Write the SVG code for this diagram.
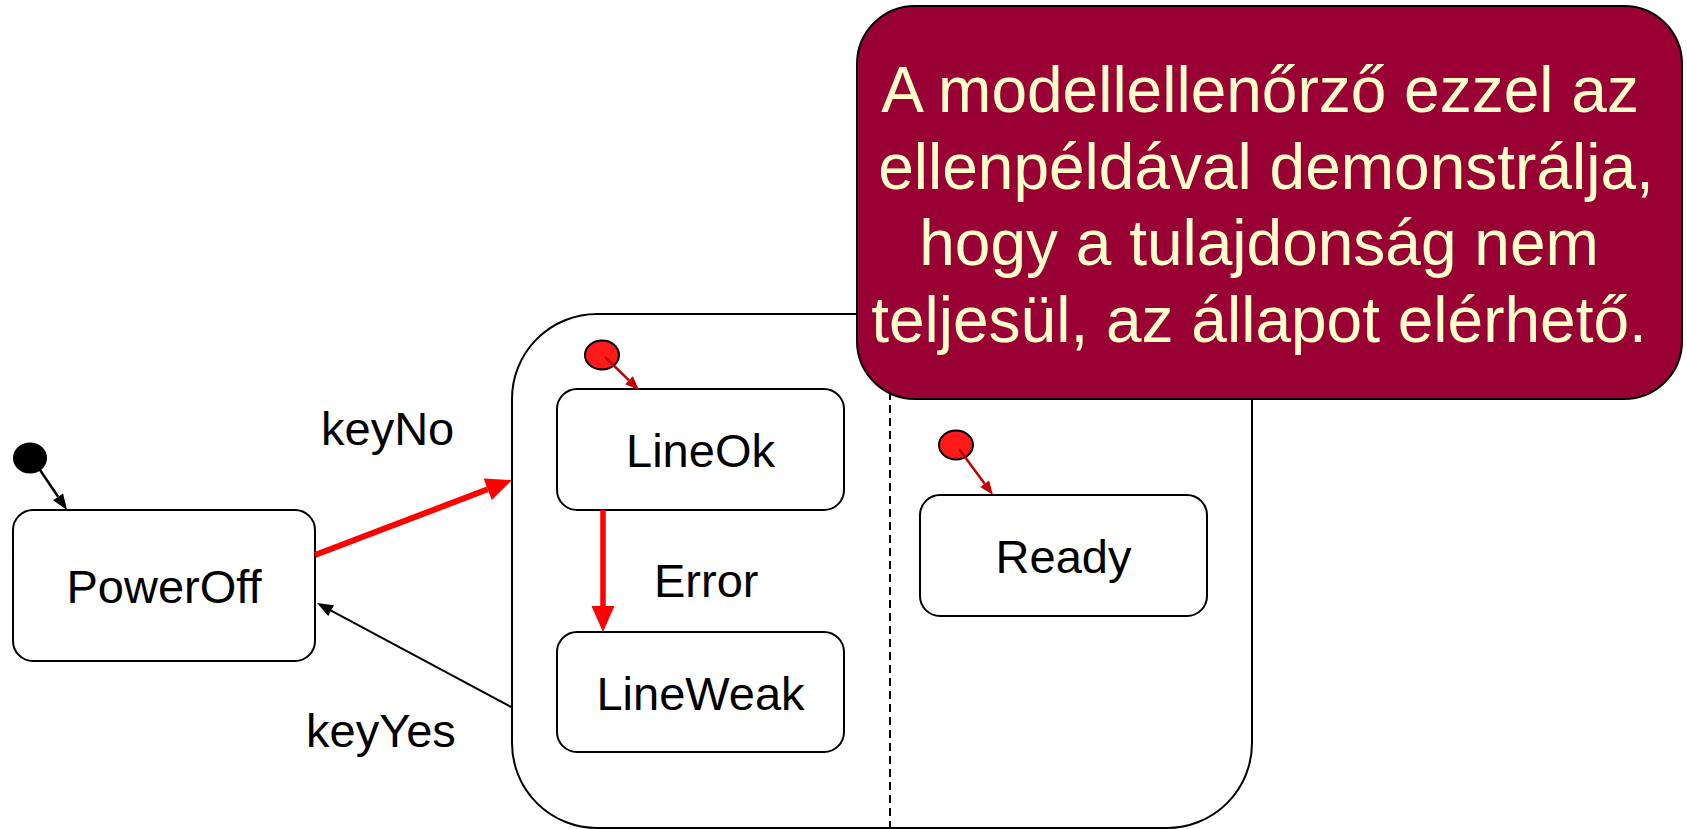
<svg xmlns="http://www.w3.org/2000/svg" width="1687" height="829" viewBox="0 0 1687 829">
<style>
.state{fill:#fff;stroke:#000;stroke-width:2}
.lbl{font-family:"Liberation Sans",Arial,sans-serif;font-size:47px;fill:#000}
.mid{text-anchor:middle}
.note{font-family:"Liberation Sans",Arial,sans-serif;font-size:64px;fill:#FFFFCC;text-anchor:middle}
.init{fill:#FF1A1A;stroke:#000;stroke-width:2}
</style>
<defs>
<marker id="hRedBig" markerUnits="userSpaceOnUse" markerWidth="27" markerHeight="24" refX="0" refY="11.5" orient="auto" overflow="visible">
<path d="M0,0 L26,11.5 L0,23 z" fill="#FF0000"/>
</marker>
<marker id="hBlack" markerUnits="userSpaceOnUse" markerWidth="17" markerHeight="13" refX="0" refY="6" orient="auto" overflow="visible">
<path d="M0,0 L16,6 L0,12 z" fill="#000"/>
</marker>
<marker id="hDark" markerUnits="userSpaceOnUse" markerWidth="15" markerHeight="12" refX="0" refY="5.5" orient="auto" overflow="visible">
<path d="M0,0 L14,5.5 L0,11 z" fill="#C00000"/>
</marker>
</defs>

<g id="composite">
<rect x="512" y="314" width="740" height="514" rx="85" ry="85" fill="#fff" stroke="#000" stroke-width="2"/>
<line x1="890" y1="340" x2="890" y2="828" stroke="#000" stroke-width="2" stroke-dasharray="8,5"/>
</g>

<g id="init0">
<ellipse cx="30" cy="458" rx="17" ry="15.5" fill="#000"/>
</g>

<g id="PowerOff">
<rect class="state" x="13" y="510" width="302" height="151" rx="20" ry="20"/>
<text class="lbl mid" x="164" y="603">PowerOff</text>
</g>

<g id="LineOk">
<rect class="state" x="557" y="389" width="287" height="121" rx="20" ry="20"/>
<text class="lbl mid" x="700.5" y="467">LineOk</text>
</g>

<g id="LineWeak">
<rect class="state" x="557" y="632" width="287" height="120" rx="20" ry="20"/>
<text class="lbl mid" x="700.5" y="710">LineWeak</text>
</g>

<g id="Ready">
<rect class="state" x="920" y="495" width="287" height="121" rx="20" ry="20"/>
<text class="lbl mid" x="1063.5" y="573">Ready</text>
</g>

<g id="init1">
<ellipse class="init" cx="602" cy="355" rx="17" ry="14.5"/>
</g>
<g id="init2">
<ellipse class="init" cx="956" cy="445" rx="17" ry="14.5"/>
</g>

<g id="connectors">
<line x1="40" y1="470" x2="58.1" y2="496.8" stroke="#000" stroke-width="2.5" marker-end="url(#hBlack)"/>
<line x1="315" y1="555" x2="487.7" y2="489.3" stroke="#FF0000" stroke-width="6" marker-end="url(#hRedBig)"/>
<line x1="603" y1="510" x2="603" y2="606" stroke="#FF0000" stroke-width="5.5" marker-end="url(#hRedBig)"/>
<line x1="511" y1="707" x2="331.1" y2="610.6" stroke="#000" stroke-width="2" marker-end="url(#hBlack)"/>
<line x1="605" y1="357" x2="629" y2="380.3" stroke="#C00000" stroke-width="2.5" marker-end="url(#hDark)"/>
<line x1="959" y1="449" x2="984.7" y2="483.7" stroke="#C00000" stroke-width="2.5" marker-end="url(#hDark)"/>
<text class="lbl" x="321" y="445">keyNo</text>
<text class="lbl" x="654" y="597">Error</text>
<text class="lbl" x="306" y="747">keyYes</text>
</g>

<g id="note">
<rect x="857" y="6" width="825" height="393" rx="58" ry="58" fill="#990033" stroke="#000" stroke-width="2"/>
<text class="note" x="1260" y="112">A modellellenőrző ezzel az</text>
<text class="note" x="1266" y="188.5">ellenpéldával demonstrálja,</text>
<text class="note" x="1259" y="265">hogy a tulajdonság nem</text>
<text class="note" x="1259" y="341.5">teljesül, az állapot elérhető.</text>
</g>
</svg>
